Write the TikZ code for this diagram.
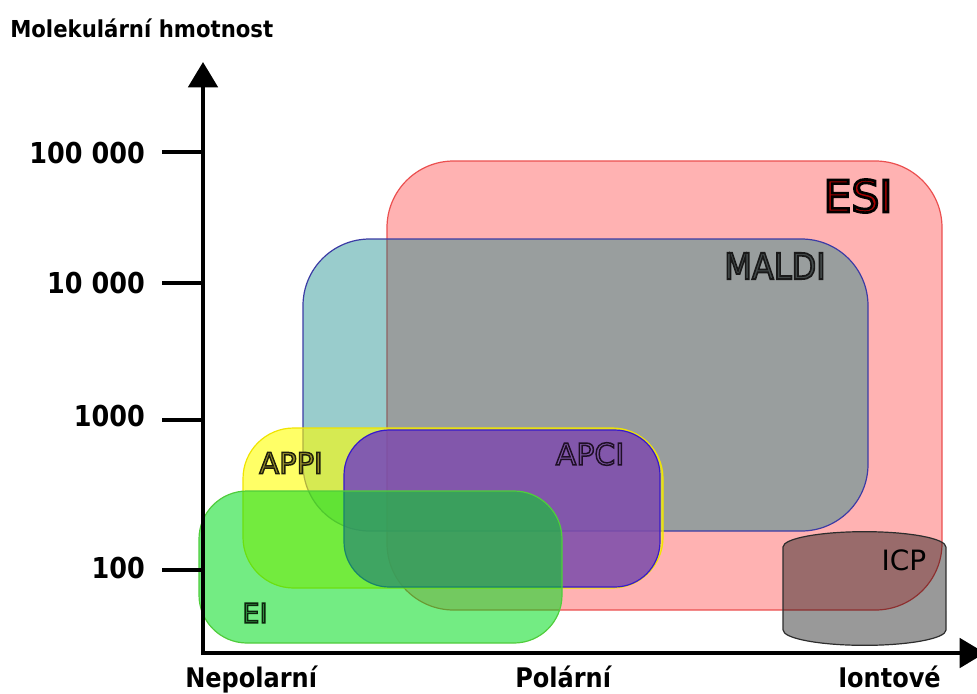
\documentclass[tikz,border=0pt]{standalone}
\usepackage{fontspec}
\setmainfont{DejaVu Sans}
\newfontfamily\outlA[FakeBold=6]{DejaVu Sans}
\newfontfamily\outlB[FakeBold=5]{DejaVu Sans}
\usetikzlibrary{arrows.meta}
% outlined text: fill colour #1, stroke colour #2 (rgb arrays)
\newcommand{\outltext}[3]{\special{pdf:bcolor [#1] [#2]}#3\special{pdf:ecolor}}

\definecolor{esiF}{RGB}{255,0,0}
\definecolor{esiD}{RGB}{235,80,80}
\definecolor{maldiF}{RGB}{0,128,128}
\definecolor{maldiD}{RGB}{60,60,165}
\definecolor{appiF}{RGB}{255,255,0}
\definecolor{appiD}{RGB}{240,228,0}
\definecolor{apciF}{RGB}{94,33,216}
\definecolor{apciD}{RGB}{55,25,205}
\definecolor{eiF}{RGB}{0,220,30}
\definecolor{eiD}{RGB}{80,205,60}
\definecolor{icpD}{RGB}{45,45,45}

\begin{document}
\begin{tikzpicture}[x=0.75pt,y=-0.75pt,
  axisline/.style={line width=3pt,-{Triangle[length=19pt,width=22pt]}},
  tickline/.style={line width=3.6pt},
  ticklab/.style={anchor=east,inner sep=0pt,font=\bfseries\fontsize{21.6pt}{26pt}\selectfont},
  axlab/.style={anchor=base west,inner sep=0pt,font=\bfseries\fontsize{20.25pt}{24pt}\selectfont},
  region/.style={rounded corners=#1,line width=0.9pt},
  boxlab/.style={inner sep=0pt}
]
\useasboundingbox (0,0) rectangle (977,693);

% regions
\draw[region=50pt,draw=esiD,fill=esiF,fill opacity=.3] (387,161) rectangle (942,610);
\draw[region=50pt,draw=maldiD,fill=maldiF,fill opacity=.4] (303,239) rectangle (868,531);
\draw[region=38pt,draw=appiD,fill=appiF,fill opacity=.6] (243,428) rectangle (663,588);
\draw[region=34pt,draw=apciD,fill=apciF,fill opacity=.7] (344,430) rectangle (660,587);
\draw[region=36pt,draw=eiD,fill=eiF,fill opacity=.55] (199,491) rectangle (562,643);
\draw[line width=0.9pt,draw=icpD,fill=black,fill opacity=.4]
  (783,547) arc[start angle=180,end angle=0,x radius=61.1pt,y radius=11.5pt]
  -- (946,630) arc[start angle=0,end angle=-180,x radius=61.1pt,y radius=11.5pt]
  -- cycle;

% axes
\coordinate (origin) at (203,653);
\coordinate (ytip) at (203,62);
\coordinate (xstart) at (201,653);
\coordinate (xtip) at (985,653);
\draw[axisline] (origin) ++(0,2) -- (ytip);
\draw[axisline] (xstart) -- (xtip);

% ticks
\coordinate (t5) at (162,152);
\coordinate (t4) at (162,283);
\coordinate (t3) at (162,420);
\coordinate (t2) at (162,570);
\foreach \t in {t5,t4,t3,t2} \draw[tickline] (\t) -- (\t -| origin);

\node[ticklab] (l5) at (145,153) {\scalebox{0.885}[1]{100 000}};
\node[ticklab] (l4) at (145,283) {\scalebox{0.885}[1]{10 000}};
\node[ticklab] (l3) at (145,416) {\scalebox{0.885}[1]{1000}};
\node[ticklab] (l2) at (145,568) {\scalebox{0.885}[1]{100}};

\node[anchor=base west,inner sep=0pt,font=\bfseries\fontsize{17.5pt}{21pt}\selectfont] (ytitle) at (10,37) {\scalebox{0.91}[1]{Molekulární hmotnost}};

\node[axlab] (xl1) at (185,687) {\scalebox{0.89}[1]{Nepolarní}};
\node[axlab] (xl2) at (515,687) {\scalebox{0.89}[1]{Polární}};
\node[axlab] (xl3) at (838,687) {\scalebox{0.89}[1]{Iontové}};

% region labels
\node[boxlab,font=\outlA\fontsize{33pt}{38pt}\selectfont] (esi) at (858,196) {\outltext{0.66 0 0}{0 0 0}{ESI}};
\node[boxlab,font=\outlB\fontsize{27pt}{32pt}\selectfont] (maldi) at (775,266) {\scalebox{0.89}[1]{\outltext{0.27 0.3 0.3}{0.1 0.1 0.1}{MALDI}}};
\node[boxlab,font=\outlB\fontsize{21.75pt}{26pt}\selectfont] (appi) at (291,463) {\outltext{0.6 0.57 0.16}{0.12 0.12 0.05}{APPI}};
\node[boxlab,font=\outlB\fontsize{22.5pt}{27pt}\selectfont] (apci) at (590,454) {\outltext{0.5 0.34 0.66}{0.12 0.06 0.15}{APCI}};
\node[boxlab,font=\outlB\fontsize{20.25pt}{24pt}\selectfont] (ei) at (255,613) {\outltext{0.18 0.55 0.24}{0.05 0.14 0.05}{EI}};
\node[boxlab,font=\fontsize{21pt}{25pt}\selectfont] (icp) at (904,560) {ICP};
\end{tikzpicture}
\end{document}
